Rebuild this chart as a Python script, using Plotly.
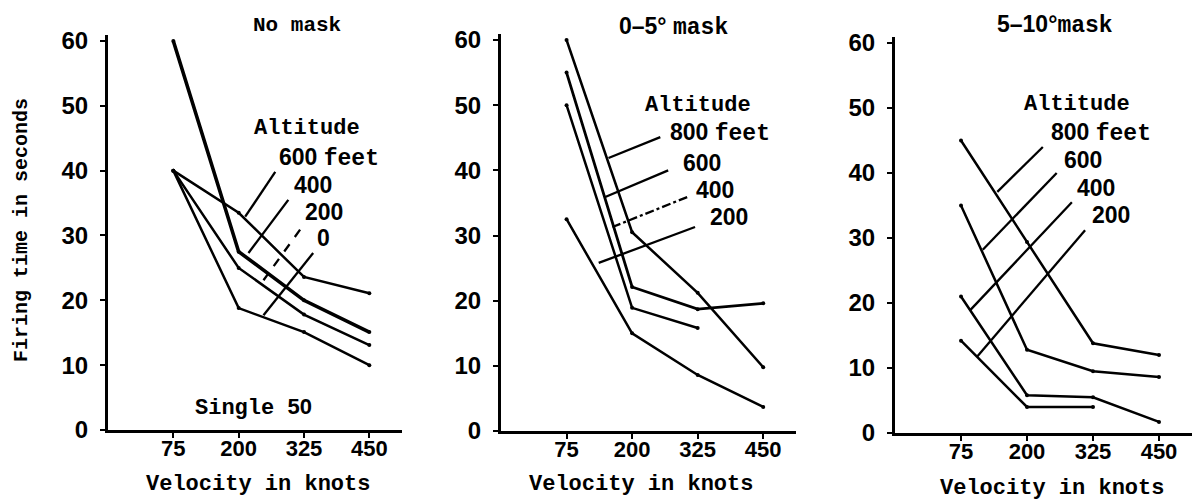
import plotly.graph_objects as go

# ---------------- data ----------------
velocity = ["75", "200", "325", "450"]
y_ticks = [0, 10, 20, 30, 40, 50, 60]

# Panel 1: No mask (Single 50)
nomask_600 = [40, 33.5, 23.6, 21.1]
nomask_400 = [60, 27.5, 20.0, 15.1]
nomask_200 = [40, 25.0, 17.8, 13.1]
nomask_0 = [40, 18.8, 15.1, 10.0]

# Panel 2: 0-5 degree mask
m05_800 = [60, 30.5, 21.2, 9.8]
m05_600 = [55, 22.1, 18.7, 19.6]
m05_400 = [50, 18.9, 15.8]
m05_200 = [32.5, 15.0, 8.6, 3.7]

# Panel 3: 5-10 degree mask
m510_800 = [45, 29.4, 13.8, 12.0]
m510_600 = [35, 12.8, 9.5, 8.6]
m510_400 = [21, 5.8, 5.5, 1.7]
m510_200 = [14.2, 4.0, 4.0]

panels = [
    ("x", "y", [nomask_600, nomask_400, nomask_200, nomask_0], [2.5, 3.6, 2.5, 2.5]),
    ("x2", "y2", [m05_800, m05_600, m05_400, m05_200], [2.5, 2.8, 2.5, 2.5]),
    ("x3", "y3", [m510_800, m510_600, m510_400, m510_200], [2.5, 2.5, 2.5, 2.5]),
]

MONO = "Liberation Mono"
SANS = "Liberation Sans"
W, H = 1194, 500

fig = go.Figure()
for xa, ya, series, widths in panels:
    for vals, w in zip(series, widths):
        fig.add_trace(go.Scatter(
            x=velocity[:len(vals)], y=vals, xaxis=xa, yaxis=ya,
            mode="lines+markers",
            line=dict(color="black", width=w),
            marker=dict(color="black", size=4),
            showlegend=False, hoverinfo="skip", cliponaxis=False,
        ))

# axis geometry (pixels)
x_dom = [(108, 402), (501, 796), (895, 1192)]
y_dom = [(430, 34.5), (431, 33.5), (433, 36.5)]  # (y=0 px, y=61 px)

def xaxis_cfg(d):
    return dict(
        domain=[d[0] / W, d[1] / W], type="category",
        categoryorder="array", categoryarray=velocity,
        range=[-1, 3.5], showline=True, linecolor="black", linewidth=3,
        ticks="outside", ticklen=5, tickwidth=2, tickcolor="black",
        showgrid=False, zeroline=False, ticklabelstandoff=-8, automargin=False,
        tickfont=dict(family=SANS, size=22, color="black", weight="bold"),
    )

def yaxis_cfg(d, anchor):
    return dict(
        domain=[1 - d[0] / H, 1 - d[1] / H], range=[0, 61],
        tickvals=y_ticks, anchor=anchor, automargin=False,
        showline=True, linecolor="black", linewidth=3,
        ticks="outside", ticklen=5, tickwidth=2, tickcolor="black",
        showgrid=False, zeroline=False, ticklabelstandoff=7,
        tickfont=dict(family=SANS, size=24, color="black", weight="bold"),
    )

layout = dict(
    width=W, height=H, margin=dict(l=0, r=0, t=0, b=0, pad=0),
    paper_bgcolor="white", plot_bgcolor="white", showlegend=False,
)
for i, (xd, yd) in enumerate(zip(x_dom, y_dom)):
    sfx = "" if i == 0 else str(i + 1)
    layout["xaxis" + sfx] = xaxis_cfg(xd) | dict(anchor="y" + sfx)
    layout["yaxis" + sfx] = yaxis_cfg(yd, "x" + sfx)
fig.update_layout(**layout)

def tf(size=22):
    return dict(family=MONO, size=size, color="black", weight="bold")

def nf(size=23):
    return dict(family=SANS, size=size, color="black", weight="bold")

ann = []
def label(xa, ya, x, y, text, font, anchor="left"):
    ann.append(dict(xref=xa, yref=ya, x=x, y=y, text=text, showarrow=False,
                    xanchor=anchor, yanchor="middle", font=font))

def plabel(px, py, text, font, anchor="center", angle=0):
    ann.append(dict(xref="paper", yref="paper", x=px / W, y=1 - py / H,
                    text=text, showarrow=False, textangle=angle,
                    xanchor=anchor, yanchor="middle", font=font))

feet = '<span style="font-family:Liberation Mono">feet</span>'

# Panel 1 labels
plabel(297, 25, "No mask", tf(21))
label("x", "y", 1.21, 46.5, "Altitude", tf(22))
label("x", "y", 1.59, 42.0, "600 " + feet, nf())
label("x", "y", 1.82, 37.8, "400", nf())
label("x", "y", 1.99, 33.6, "200", nf())
label("x", "y", 2.17, 29.6, "0", nf())
label("x", "y", 1.23, 3.5, 'Single <span style="font-family:Liberation Sans">50</span>', tf(22), "center")

# Panel 2 labels
plabel(673, 27, '0–5° <span style="font-family:Liberation Mono">mask</span>', nf(23))
label("x2", "y2", 1.16, 50.0, "Altitude", tf(22))
label("x2", "y2", 1.54, 45.8, "800 " + feet, nf())
label("x2", "y2", 1.74, 41.1, "600", nf())
label("x2", "y2", 1.94, 37.0, "400", nf())
label("x2", "y2", 2.15, 32.8, "200", nf())

# Panel 3 labels
plabel(1055, 25, '5–10°<span style="font-family:Liberation Mono">mask</span>', nf(23))
label("x3", "y3", 0.92, 50.6, "Altitude", tf(22))
label("x3", "y3", 1.33, 46.1, "800 " + feet, nf())
label("x3", "y3", 1.53, 42.0, "600", nf())
label("x3", "y3", 1.73, 37.7, "400", nf())
label("x3", "y3", 1.95, 33.5, "200", nf())

# axis titles
plabel(258, 484, "Velocity in knots", tf(22))
plabel(641, 484, "Velocity in knots", tf(22))
plabel(1052, 488, "Velocity in knots", tf(22))
plabel(22, 230, "Firing time in seconds", tf(20), angle=-90)
fig.update_layout(annotations=ann)

# leader lines (label -> curve)
leaders = [
    ("x", "y", 1.56, 39.8, 1.10, 32.9, "solid"),
    ("x", "y", 1.76, 35.5, 1.15, 27.3, "solid"),
    ("x", "y", 1.94, 30.9, 1.38, 23.1, "dash"),
    ("x", "y", 2.14, 27.3, 1.38, 17.7, "solid"),
    ("x2", "y2", 1.43, 45.1, 0.64, 41.9, "solid"),
    ("x2", "y2", 1.55, 40.0, 0.59, 35.9, "solid"),
    ("x2", "y2", 1.84, 35.9, 0.70, 31.3, "dashdot"),
    ("x2", "y2", 1.96, 31.3, 0.49, 25.8, "solid"),
    ("x3", "y3", 1.24, 44.0, 0.55, 37.1, "solid"),
    ("x3", "y3", 1.45, 40.0, 0.33, 28.2, "solid"),
    ("x3", "y3", 1.68, 35.5, 0.14, 18.9, "solid"),
    ("x3", "y3", 1.88, 31.2, 0.24, 11.7, "solid"),
]
for xa, ya, x0, y0, x1, y1, dash in leaders:
    fig.add_shape(type="line", xref=xa, yref=ya, x0=x0, y0=y0, x1=x1, y1=y1,
                  line=dict(color="black", width=2.3, dash=dash))

fig.write_html("out.html")
